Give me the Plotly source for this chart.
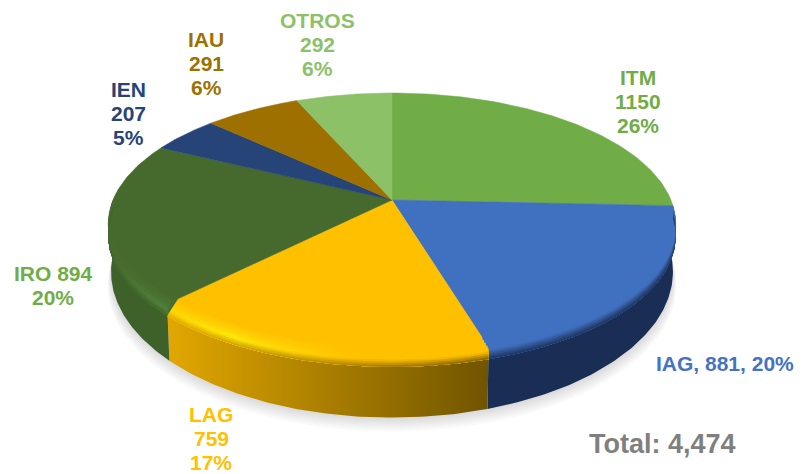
import numpy as np
import plotly.graph_objects as go

categories = ["ITM", "IAG", "LAG", "IRO", "IEN", "IAU", "OTROS"]
values = [1150, 881, 759, 894, 207, 291, 292]
percents = ["26%", "20%", "17%", "20%", "5%", "6%", "6%"]
top_colors = ["#70AD47", "#4070C0", "#FFC000", "#466A2D", "#264478", "#9E7000", "#8CC168"]
label_colors = ["#70AD47", "#4472C4", "#FFC000", "#70AD47", "#264478", "#9E7000", "#8CC168"]
labels = [
    "{c}<br>{v}<br>{p}", "{c}, {v}, {p}", "{c}<br>{v}<br>{p}", "{c} {v}<br>{p}",
    "{c}<br>{v}<br>{p}", "{c}<br>{v}<br>{p}", "{c}<br>{v}<br>{p}",
]
label_x = [638, 725, 211, 53, 128, 206, 317]
label_y = [101, 363, 438, 285, 113, 63, 44]
LINE_GAP = 24

# view of the disc
CX, CY, A, B, K = 392.0, 200.0, 279.0, 126.6, 0.183
BOTTOM = dict(sx=0.99, sy=1.114, dy=45.0)
RIM_DROP = 12.0


def project(theta, r=1.0, sx=1.0, sy=1.0, dy=0.0):
    t = np.radians(theta)
    u, v = r * np.sin(t), r * np.cos(t)
    w = 1 + K * v
    return CX + sx * A * u / w, CY + dy - sy * B * v / w


def rgb(c):
    return "rgb(%d,%d,%d)" % tuple(int(round(x)) for x in c)


def mix(a, b, t):
    return tuple(x + (y - x) * t for x, y in zip(a, b))


total = sum(values)
edges = np.cumsum([0] + values) / total * 360.0
fig = go.Figure()


def poly(x, y, color=None, grad=None, lw=0.0):
    kw = dict(x=np.asarray(x).tolist(), y=np.asarray(y).tolist(), mode="lines", fill="toself",
              hoverinfo="skip", showlegend=False, line=dict(width=lw, color=color or "rgba(0,0,0,0)"))
    if grad:
        kw["fillgradient"] = dict(type="horizontal", colorscale=grad)
    else:
        kw["fillcolor"] = color
    fig.add_trace(go.Scatter(**kw))


# soft shadow under the pie
th = np.linspace(0, 360, 241)
for off in [14, 12, 10, 8, 6, 4, 2]:
    x, y = project(th, sx=BOTTOM["sx"] * (1 + off * 0.0009), sy=BOTTOM["sy"], dy=BOTTOM["dy"] + off)
    poly(x, y, color="rgba(0,0,0,0.02)")

# walls
IAG_W, IRO_W = (26, 46, 85), (62, 97, 42)
LAG_WL, LAG_WR = (226, 167, 0), (112, 84, 0)
wall_spec = {
    1: [[0, rgb(IAG_W)], [1, rgb(IAG_W)]],
    2: [[0, rgb(LAG_WL)], [1, rgb(LAG_WR)]],
    3: [[0, rgb(IRO_W)], [1, rgb(IRO_W)]],
}
for i, grad in wall_spec.items():
    a0, a1 = edges[i], min(edges[i + 1], 275.0)
    th = np.linspace(a0, a1, 90)
    xt, yt = project(th)
    xb, yb = project(th[::-1], **BOTTOM)
    poly(np.r_[xt, xb], np.r_[yt, yb], grad=grad)

# tops
for i, c in enumerate(top_colors):
    th = np.linspace(edges[i], edges[i + 1], 90)
    x, y = project(th)
    poly(np.r_[CX, x, CX], np.r_[CY, y, CY], color=c, lw=0.5)


# rim bevel, from inner to outer
def h2c(c):
    c = c.lstrip("#")
    return tuple(int(c[j:j + 2], 16) for j in (0, 2, 4))


def ring_color(i, t, h):
    base = h2c(top_colors[i])
    if i == 1:
        return mix(base, IAG_W, max(0, (t - 0.45) / 0.55))
    if i == 2:
        if h < 0.2:
            hi = mix((255, 214, 0), (255, 235, 10), h / 0.2)
        else:
            hi = mix((255, 235, 10), (255, 192, 0), min(1, (h - 0.2) / 0.4))
        wall = mix(LAG_WL, LAG_WR, h)
        return mix(base, hi, t / 0.55) if t < 0.55 else mix(hi, wall, (t - 0.55) / 0.45)
    hi = mix(base, (82, 130, 58), h)
    return mix(base, hi, t / 0.6) if t < 0.6 else mix(hi, IRO_W, (t - 0.6) / 0.4)


def rim_arc(th, t):
    g = np.abs(np.cos(np.radians(th)))
    if t < 0.35:
        return project(th, r=1 - 0.06 * (1 - t / 0.35) * g)
    return project(th, dy=RIM_DROP * (t - 0.35) / 0.65)


STEPS = 11
for i, end in [(1, edges[2]), (2, edges[3]), (3, 272.0)]:
    th = np.linspace(edges[i], end, 90)
    xo, yo = rim_arc(th, 1.0)
    for j in range(STEPS - 1):
        t = j / (STEPS - 1)
        xi, yi = rim_arc(th[::-1], t)
        grad = [[h, rgb(ring_color(i, t, h))] for h in np.linspace(0, 1, 11)]
        poly(np.r_[xo, xi], np.r_[yo, yi], grad=grad)

for c, v, p, tpl, col, lx, ly in zip(categories, values, percents, labels, label_colors, label_x, label_y):
    lines = tpl.format(c=c, v=v, p=p).split("<br>")
    for n, line in enumerate(lines):
        fig.add_annotation(x=lx, y=ly + (n - (len(lines) - 1) / 2) * LINE_GAP, text=line, showarrow=False,
                           xanchor="center", yanchor="middle", align="center",
                           font=dict(family="Liberation Sans", size=21, color=col, weight="bold"))
fig.add_annotation(x=662, y=444, text="Total: {:,}".format(total), showarrow=False, xanchor="center",
                   yanchor="middle", font=dict(family="Liberation Sans", size=27, color="#7F7F7F", weight="bold"))

fig.update_layout(width=809, height=474, margin=dict(l=0, r=0, t=0, b=0), paper_bgcolor="white",
                  plot_bgcolor="white", showlegend=False,
                  xaxis=dict(range=[0, 809], visible=False, fixedrange=True),
                  yaxis=dict(range=[474, 0], visible=False, fixedrange=True))
fig.write_html("out.html", config={"displayModeBar": False},
               post_script="document.body.style.margin='0';document.body.style.overflow='hidden';")
